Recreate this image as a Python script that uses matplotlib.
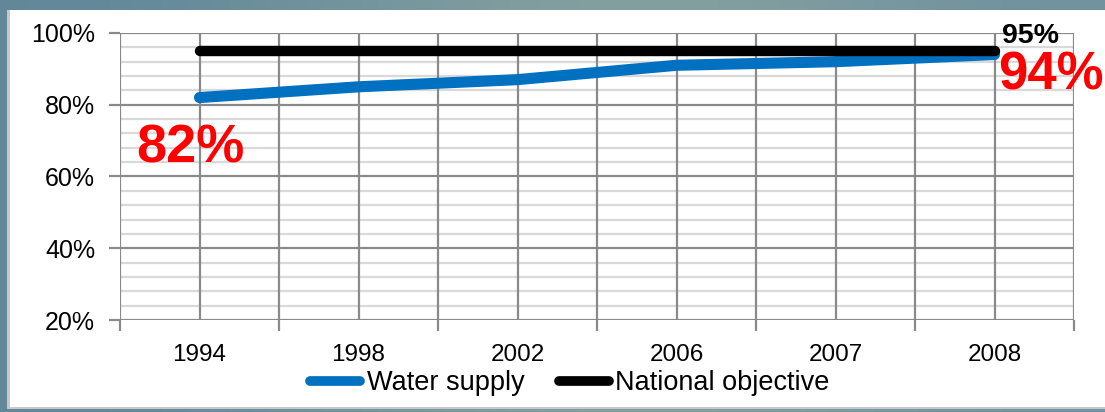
import matplotlib
matplotlib.use("Agg")
import matplotlib.pyplot as plt
import numpy as np
from matplotlib.patches import Rectangle
from matplotlib.lines import Line2D

plt.rcParams['font.family'] = ['Liberation Sans', 'DejaVu Sans']

years = ["1994", "1998", "2002", "2006", "2007", "2008"]
water_supply = [82, 85, 87, 91, 92, 94]
national_objective = [95, 95, 95, 95, 95, 95]
y_ticks = [20, 40, 60, 80, 100]

W, H = 1105, 412
fig = plt.figure(figsize=(W / 100, H / 100), dpi=100)

# background frame (photo-like gradient)
bg = fig.add_axes([0, 0, 1, 1], zorder=-10)
bg.set_axis_off()
grad = np.array([[[0.38, 0.53, 0.60], [0.48, 0.60, 0.62], [0.54, 0.64, 0.63], [0.44, 0.57, 0.62]]])
bg.imshow(grad, aspect='auto', extent=[0, 1, 0, 1], interpolation='bicubic')
bg.set_xlim(0, 1)
bg.set_ylim(0, 1)
# shadow + white panel
bg.add_patch(Rectangle((7 / W, 3 / H), 1, (H - 13) / H, facecolor='#c8c8c8', edgecolor='none'))
bg.add_patch(Rectangle((10 / W, 5 / H), 1, (H - 15) / H, facecolor='white', edgecolor='none'))

left, right, top, bottom = 120, 1074, 33, 320
ax = fig.add_axes([left / W, 1 - bottom / H, (right - left) / W, (bottom - top) / H])
ax.set_facecolor('none')

x = np.arange(len(years))
ax.set_xlim(-0.5, len(years) - 0.5)
ax.set_ylim(20, 100)

# gridlines
for yy in np.arange(20, 101, 4):
    if yy % 20 != 0:
        ax.axhline(yy, color='#d9d9d9', lw=1.6, zorder=1)
for yy in y_ticks:
    ax.axhline(yy, color='#8a8a8a', lw=1.6, zorder=2)
for xx in np.arange(-0.5, len(years), 0.5):
    ax.axvline(xx, color='#8a8a8a', lw=1.6, zorder=2)

for s in ax.spines.values():
    s.set_visible(False)

ax.set_yticks(y_ticks)
ax.set_yticklabels([f"{v}%" for v in y_ticks], fontsize=18)
ax.set_xticks(x)
ax.set_xticklabels(years, fontsize=17.5)
ax.set_xticks(np.arange(-0.5, len(years), 1.0), minor=True)
ax.tick_params(axis='x', which='major', length=0, pad=17)
ax.tick_params(axis='x', which='minor', length=8, width=1.6, color='#8a8a8a')
ax.tick_params(axis='y', which='major', length=8, width=1.6, color='#8a8a8a', pad=10)

ax.plot(x, water_supply, color='#0070c0', lw=8, solid_capstyle='round', zorder=5)
ax.plot(x, national_objective, color='black', lw=7.5, solid_capstyle='round', zorder=6)

ax.text(-0.06, 67.7, f"{water_supply[0]}%", color='#ff0000', fontsize=39, fontweight='bold',
        ha='center', va='center', zorder=7)
ax.text(5.02, 88.2, f"{water_supply[-1]}%", color='#ff0000', fontsize=38, fontweight='bold',
        ha='left', va='center', zorder=7, clip_on=False)
ax.text(5.05, 99.2, f"{national_objective[-1]}%", color='black', fontsize=20.5, fontweight='bold',
        ha='left', va='center', zorder=7, clip_on=False)

handles = [Line2D([0], [0], color='#0070c0', lw=7, solid_capstyle='round'),
           Line2D([0], [0], color='black', lw=7, solid_capstyle='round')]
leg = fig.legend(handles, ["Water supply", "National objective"], loc='center',
                 bbox_to_anchor=(570 / W, 1 - 383 / H), ncol=2, frameon=False,
                 fontsize=19.5, handlelength=1.85, handletextpad=0.25, columnspacing=1.25,
                 borderpad=0, borderaxespad=0)

fig.savefig("out.png", dpi=100)
